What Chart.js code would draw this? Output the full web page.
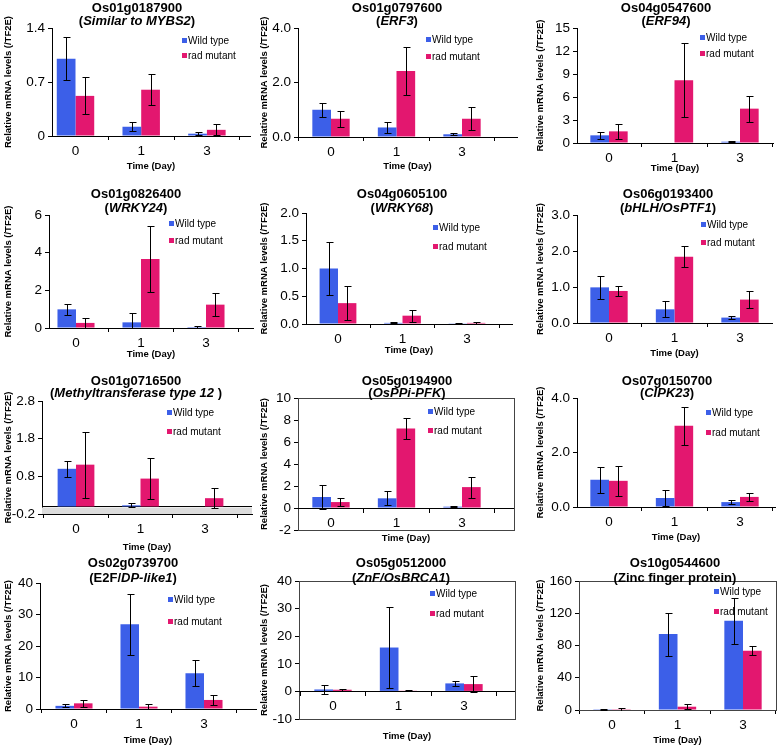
<!DOCTYPE html>
<html>
<head>
<meta charset="utf-8">
<script src="https://cdn.jsdelivr.net/npm/chart.js@4.4.1/dist/chart.umd.min.js"></script>
<style>
  body { margin: 0; background: #fff; }
  #page { position: relative; width: 778px; height: 746px; overflow: hidden; font-family: "Liberation Sans", Arial, sans-serif; }
  #page canvas { position: absolute; }
  .ttl { position: absolute; width: 240px; margin-left: -120px; text-align: center; font-weight: bold; font-size: 13px; line-height: 13px; white-space: nowrap; color: #000; }
</style>
</head>
<body>
<div id="page"></div>
<script>
// data
const days = ['0', '1', '3'];
const seriesNames = ['Wild type', 'rad mutant'];
const geneIds = ['Os01g0187900', 'Os01g0797600', 'Os04g0547600', 'Os01g0826400', 'Os04g0605100', 'Os06g0193400',
                 'Os01g0716500', 'Os05g0194900', 'Os07g0150700', 'Os02g0739700', 'Os05g0512000', 'Os10g0544600'];
const geneNames = ['(<i>Similar to MYBS2</i>)', '(<i>ERF3</i>)', '(<i>ERF94</i>)', '(<i>WRKY24</i>)', '(<i>WRKY68</i>)',
                   '(<i>bHLH/OsPTF1</i>)', '(<i>Methyltransferase type 12 </i>)', '(<i>OsPPi-PFK</i>)', '(<i>CIPK23</i>)',
                   '(E2F/<i>DP-like1</i>)', '(<i>ZnF/OsBRCA1</i>)', '(Zinc finger protein)'];

const wildType = [
  [1.00, 0.12, 0.03], [1.00, 0.35, 0.10], [1.00, 0.00, 0.17],
  [0.99, 0.30, 0.05], [1.00, 0.02, 0.005], [0.99, 0.38, 0.15],
  [1.00, 0.03, 0.00], [1.00, 0.88, 0.12], [1.00, 0.33, 0.18],
  [1.00, 26.9, 11.35], [0.70, 15.9, 2.90], [1.00, 94.2, 110.7]
];
const wildTypeErr = [
  [0.28, 0.06, 0.02], [0.26, 0.20, 0.03], [0.50, 0.00, 0.10],
  [0.30, 0.52, 0.05], [0.48, 0.01, 0.005], [0.32, 0.22, 0.05],
  [0.22, 0.05, 0.00], [1.08, 0.65, 0.06], [0.47, 0.30, 0.06],
  [0.50, 9.6, 4.2], [1.5, 14.8, 1.0], [0.5, 26.7, 28.5]
];
const radMutant = [
  [0.52, 0.60, 0.08], [0.67, 2.42, 0.67], [1.52, 8.20, 4.48],
  [0.27, 3.66, 1.24], [0.376, 0.15, 0.02], [0.89, 1.84, 0.65],
  [1.11, 0.74, 0.22], [0.54, 7.22, 1.90], [0.96, 2.98, 0.37],
  [1.80, 0.74, 2.87], [0.60, 0.24, 2.65], [1.0, 4.1, 73.5]
];
const radMutantErr = [
  [0.24, 0.20, 0.07], [0.30, 0.89, 0.43], [0.98, 4.87, 1.70],
  [0.26, 1.76, 0.62], [0.31, 0.11, 0.02], [0.14, 0.29, 0.23],
  [0.88, 0.54, 0.27], [0.38, 0.95, 0.95], [0.55, 0.69, 0.15],
  [1.2, 0.7, 1.7], [0.3, 0.2, 2.95], [2.0, 2.8, 5.5]
];
const yMin = [0, 0, 0, 0, 0, 0, -0.2, -2, 0, 0, -10, 0];
const yMax = [1.4, 4, 15, 6, 2, 3, 2.8, 10, 4, 40, 40, 160];
const yStep = [0.7, 2, 3, 2, 0.5, 1, 1, 2, 2, 10, 10, 40];
const yDigits = [-1, 1, 0, 0, 1, 1, 1, 0, 1, 0, 0, 0];

// layout (page pixels)
const colX = [0, 259, 518], colW = [259, 259, 260];
const rowY = [0, 186, 372, 558], rowH = [186, 186, 186, 188];
const plotBox = [
  [52, 28, 250, 136], [298, 28, 517, 137], [577, 28, 773, 143],
  [49, 215, 253, 328], [306, 213, 512, 324], [577, 215, 772, 323],
  [42, 401, 252, 514], [298, 398, 514, 530], [577, 398, 775, 507],
  [40, 583, 256, 709], [299, 581, 515, 719], [579, 581, 776, 710]
];
// where the first day group sits and how far apart the groups are
const groupStart = [75.5, 331, 609, 76, 338, 609, 76, 331, 609, 74, 333, 612];
const groupStep = [65.7, 65.5, 65.5, 65, 64.5, 65.5, 64.5, 65.5, 65.5, 65, 65.5, 65.5];
const legendX = [182, 426, 700, 169, 433, 701, 167, 428, 706, 168, 430, 714];
const legendY = [[13, 15], [12, 17], [10, 16], [9, 17], [15, 19], [10, 18],
                 [12, 19], [14, 19], [15, 20], [17, 22], [13, 20], [11, 20]];
const timeY = [166, 166, 168, 354, 350, 353, 547, 538, 537, 740, 736, 740];
const titleX = [137, 397, 666, 136, 402, 668, 136, 407, 667, 133, 401, 675];
const titleY = [7, 193, 380, 562], titleGap = [13, 14, 12, 15];
const yTitleX = [8, 264, 540];
const framed = [false, false, false, false, false, false, false, true, false, false, true, true];
const shadedBelowZero = [false, false, false, false, false, false, true, false, false, false, false, false];

const FONT = '"Liberation Sans", Arial, sans-serif';
const BLUE = '#3C5FE8';
const PINK = '#E3176F';

const errorBars = {
  id: 'errorBars',
  afterDatasetsDraw(chart) {
    const ctx = chart.ctx, y = chart.scales.y, a = chart.chartArea;
    ctx.save();
    ctx.beginPath();
    ctx.rect(a.left, a.top - 2, a.right - a.left, a.bottom - a.top + 3);
    ctx.clip();
    ctx.strokeStyle = '#000';
    ctx.lineWidth = 1;
    chart.data.datasets.forEach((ds, di) => {
      chart.getDatasetMeta(di).data.forEach((bar, j) => {
        const e = ds.errors[j];
        if (!e) return;
        const v = ds.data[j];
        const top = Math.round(y.getPixelForValue(v + e)) + 0.5;
        const bot = Math.round(y.getPixelForValue(v - e)) + 0.5;
        const x = Math.round(bar.x) + 0.5;
        ctx.beginPath();
        ctx.moveTo(x, top); ctx.lineTo(x, bot);
        ctx.moveTo(x - 3, top); ctx.lineTo(x + 4, top);
        ctx.moveTo(x - 3, bot); ctx.lineTo(x + 4, bot);
        ctx.stroke();
      });
    });
    ctx.restore();
  }
};

// plot border and the zero line
const plotFrame = {
  id: 'plotFrame',
  beforeDatasetsDraw(chart, args, opts) {
    const ctx = chart.ctx, a = chart.chartArea, y = chart.scales.y;
    ctx.save();
    ctx.lineWidth = 1;
    if (opts.framed) {
      ctx.strokeStyle = '#444';
      ctx.strokeRect(Math.round(a.left) + 0.5, Math.round(a.top) + 0.5, Math.round(a.right - a.left), Math.round(a.bottom - a.top));
    }
    if (y.min < 0) {
      const z = Math.round(y.getPixelForValue(0)) + 0.5;
      if (opts.shade) {
        ctx.fillStyle = '#dcdcdc';
        ctx.fillRect(a.left, z + 1, a.right - a.left, a.bottom - z - 1);
      }
      ctx.strokeStyle = '#000';
      ctx.beginPath();
      ctx.moveTo(a.left, z); ctx.lineTo(a.right, z);
      ctx.stroke();
    }
    ctx.restore();
  }
};

const insideLegend = {
  id: 'insideLegend',
  afterDraw(chart, args, opts) {
    const ctx = chart.ctx, a = chart.chartArea;
    ctx.save();
    ctx.font = '10px ' + FONT;
    ctx.textBaseline = 'middle';
    chart.data.datasets.forEach((ds, k) => {
      const x = Math.round(opts.x), yy = Math.round(a.top + opts.dy + k * opts.gap);
      ctx.fillStyle = ds.backgroundColor;
      ctx.fillRect(x, yy - 3, 5, 5);
      ctx.fillStyle = '#000';
      ctx.fillText(ds.label, x + 6, yy);
    });
    ctx.restore();
  }
};

const page = document.getElementById('page');

function makePanel(i) {
  const col = i % 3, row = Math.floor(i / 3);
  const cx = colX[col], cy = rowY[row], cw = colW[col], ch = rowH[row];
  const b = plotBox[i];
  const dynamic = yMin[i] < 0 && i !== 6;
  const zeroY = b[1] + yMax[i] / (yMax[i] - yMin[i]) * (b[3] - b[1]);
  const halfTitle = 9.5 * 1.2 / 2;

  const canvas = document.createElement('canvas');
  canvas.width = cw; canvas.height = ch;
  canvas.style.left = cx + 'px'; canvas.style.top = cy + 'px';
  page.appendChild(canvas);

  const digits = yDigits[i];
  new Chart(canvas.getContext('2d'), {
    type: 'bar',
    data: {
      labels: days,
      datasets: [
        { label: seriesNames[0], data: wildType[i], errors: wildTypeErr[i], backgroundColor: BLUE },
        { label: seriesNames[1], data: radMutant[i], errors: radMutantErr[i], backgroundColor: PINK }
      ]
    },
    options: {
      responsive: false,
      animation: false,
      events: [],
      datasets: { bar: { categoryPercentage: 0.57, barPercentage: 1.0 } },
      layout: { padding: { left: 0, top: b[1] - cy, right: cx + cw - b[2], bottom: dynamic ? cy + ch - b[3] : 0 } },
      plugins: {
        legend: { display: false },
        tooltip: { enabled: false },
        insideLegend: { x: legendX[i] - cx, dy: legendY[i][0], gap: legendY[i][1] },
        plotFrame: { framed: framed[i], shade: shadedBelowZero[i] }
      },
      scales: {
        x: {
          position: dynamic ? { y: 0 } : 'bottom',
          grid: { display: true, drawOnChartArea: false, offset: true, tickLength: 4, color: '#000' },
          border: { display: true, color: '#000', width: 1 },
          ticks: { color: '#000', padding: 3, font: { family: FONT, size: 13.5 } },
          title: {
            display: true, text: 'Time (Day)', color: '#000',
            font: { family: FONT, size: 9.5, weight: 'bold' },
            padding: { top: 0, bottom: dynamic ? 0 : (cy + ch - timeY[i]) - halfTitle }
          },
          afterBuildTicks: (s) => {
            // the original plots leave a little room after the last day
            s._startValue = -(groupStart[i] - b[0]) / groupStep[i];
            s._valueRange = (b[2] - b[0]) / groupStep[i];
          },
          afterFit: (s) => {
            s.height = dynamic ? (timeY[i] - zeroY) + halfTitle : cy + ch - b[3];
          }
        },
        y: {
          min: yMin[i], max: yMax[i],
          grid: { display: true, drawOnChartArea: false, tickLength: 4, color: '#000' },
          border: { display: true, color: '#000', width: 1 },
          ticks: {
            stepSize: yStep[i], color: '#000', padding: 3,
            font: { family: FONT, size: 13.5 },
            callback: (v) => digits < 0 ? String(Math.round(v * 10) / 10) : Number(v).toFixed(digits)
          },
          title: {
            display: true, text: 'Relative mRNA levels (/TF2E)', color: '#000',
            font: { family: FONT, size: 9.5, weight: 'bold' },
            padding: { top: yTitleX[col] - cx - halfTitle, bottom: 0 }
          },
          afterFit: (s) => { s.width = b[0] - cx; }
        }
      }
    },
    plugins: [errorBars, plotFrame, insideLegend]
  });

  const t1 = document.createElement('div');
  t1.className = 'ttl';
  t1.style.left = titleX[i] + 'px';
  t1.style.top = (titleY[row] - 6.5) + 'px';
  t1.textContent = geneIds[i];
  page.appendChild(t1);
  const t2 = document.createElement('div');
  t2.className = 'ttl';
  t2.style.left = titleX[i] + 'px';
  t2.style.top = (titleY[row] + titleGap[row] - 6.5) + 'px';
  t2.innerHTML = geneNames[i];
  page.appendChild(t2);
}

for (let i = 0; i < geneIds.length; i++) makePanel(i);
</script>
</body>
</html>
